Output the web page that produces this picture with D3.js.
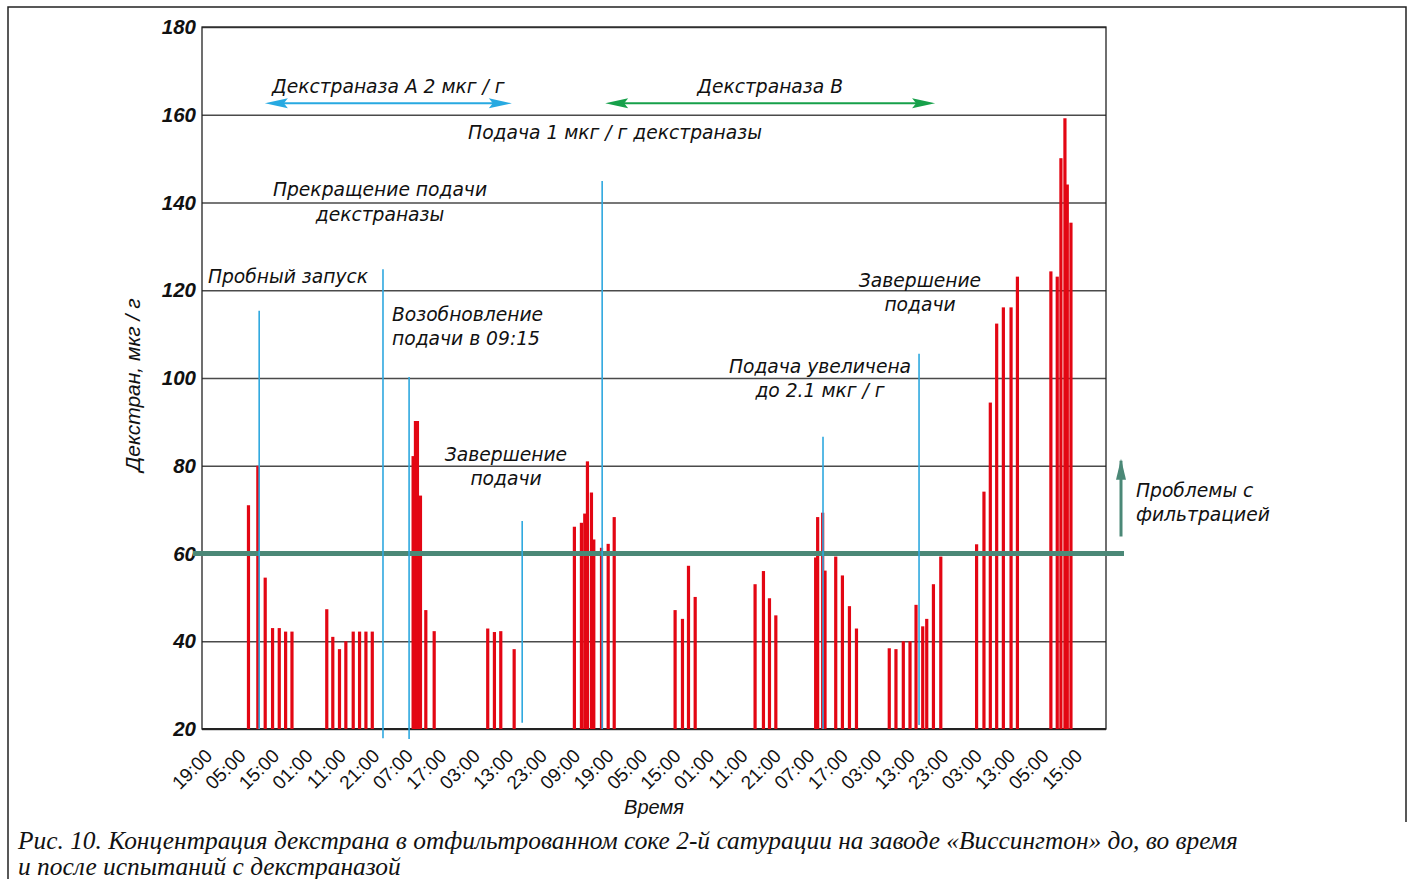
<!DOCTYPE html>
<html>
<head>
<meta charset="utf-8">
<script src="https://cdn.jsdelivr.net/npm/d3@7"></script>
<style>
  body { margin: 0; background: #fff; }
  text { font-family: "Liberation Sans", Arial, sans-serif; }
  .note { font-family: "DejaVu Sans", sans-serif; font-style: italic; font-size: 18.7px; fill: #111; }
  .caption { font-family: "Liberation Serif", "Times New Roman", serif; font-style: italic; font-size: 25.4px; fill: #111; }
</style>
</head>
<body>
<svg width="1413" height="879"></svg>
<script>
// time axis labels, one per tick interval
const timeLabels = ['19:00','05:00','15:00','01:00','11:00','21:00','07:00','17:00','03:00',
    '13:00','23:00','09:00','19:00','05:00','15:00','01:00','11:00','21:00','07:00','17:00',
    '03:00','13:00','23:00','03:00','13:00','05:00','15:00'];

// samples: position along time axis (in tick intervals) and dextran, мкг/г
const barSlot = [1.09, 1.37, 1.59, 1.81, 2.01, 2.20, 2.39,
    3.43, 3.61, 3.81, 4.00, 4.22, 4.41, 4.60, 4.79,
    6.01, 6.08, 6.14, 6.23, 6.39, 6.64,
    8.24, 8.44, 8.63, 9.03,
    10.83, 11.04, 11.14, 11.22, 11.34, 11.41, 11.64, 11.84, 12.02,
    13.84, 14.06, 14.24, 14.44,
    16.23, 16.48, 16.66, 16.85,
    18.04, 18.10, 18.25, 18.32, 18.64, 18.84, 19.05, 19.26,
    20.24, 20.44, 20.66, 20.86, 21.04, 21.24, 21.36, 21.56, 21.78,
    22.85, 23.07, 23.26, 23.45, 23.65, 23.88, 24.07,
    25.07, 25.26, 25.37, 25.49, 25.56, 25.67];
const dextran = [71, 80, 54.5, 43, 43, 42.2, 42.2,
    47.3, 41, 38.2, 40, 42.2, 42.2, 42.2, 42.2,
    82.2, 90.2, 90.2, 73.2, 47.1, 42.3,
    42.9, 42.1, 42.3, 38.2,
    66.1, 67, 69.1, 81, 73.9, 63.2, 61.3, 62.2, 68.3,
    47.1, 45.1, 57.2, 50.1,
    53, 56, 49.8, 45.9,
    59.1, 68.3, 69.3, 56.1, 59.3, 55, 48, 42.9,
    38.4, 38.2, 40, 40, 48.3, 43.4, 45.1, 53, 59.3,
    62.1, 74.1, 94.4, 112.4, 116.1, 116.1, 123.1,
    124.3, 123.1, 150.1, 159.2, 144.1, 135.4];

// event markers (blue lines)
const eventSlot = [1.41, 5.11, 5.89, 9.27, 11.66, 18.26, 21.13];
const eventTop = [115.3, 124.8, 100.2, 67.4, 144.9, 86.6, 105.5];
const eventBottom = [20, 17.9, 17.7, 21.4, 20, 20, 20.9];

// dextranase dosing periods
const periodNames = ['Декстраназа А 2 мкг / г', 'Декстраназа В'];
const periodStart = [1.58, 11.75];
const periodEnd = [8.96, 21.61];
const periodLevel = [162.6, 162.6];
const periodColors = ['#27a9e1', '#16a04a'];

const yTicks = [20, 40, 60, 80, 100, 120, 140, 160, 180];
const threshold = 60;

const svg = d3.select('svg');
const width = +svg.attr('width');
const height = +svg.attr('height');

const render = () => {
    const margin = { top: 27, right: 307, bottom: 150, left: 202 };
    const innerWidth = width - margin.left - margin.right;
    const innerHeight = height - margin.top - margin.bottom;

    // outer frame (open at bottom)
    svg.append('path')
        .attr('d', `M8,879 L8,7 L1406,7 L1406,822`)
        .attr('fill', 'none')
        .attr('stroke', '#222')
        .attr('stroke-width', 1.5);

    const g = svg.append('g')
        .attr('transform', `translate(${margin.left},${margin.top})`);

    const x = d3.scaleLinear()
        .domain([0, 26])
        .range([10, 880]);

    const y = d3.scaleLinear()
        .domain([20, 180])
        .range([innerHeight, 0]);

    //grid + y labels
    const yAxisG = g.append('g')
        .call(d3.axisLeft(y).tickValues(yTicks).tickSize(-innerWidth).tickPadding(6));
    yAxisG.select('.domain').remove();
    yAxisG.selectAll('line')
        .attr('stroke', '#4a4a4a')
        .attr('stroke-width', 1.3);
    yAxisG.selectAll('text')
        .attr('font-size', 20.5)
        .attr('font-style', 'italic')
        .attr('font-weight', 'bold')
        .attr('fill', '#111');

    //frame
    g.append('rect')
        .attr('width', innerWidth)
        .attr('height', innerHeight)
        .attr('fill', 'none')
        .attr('stroke', '#222')
        .attr('stroke-width', 1.3);
    g.append('line')
        .attr('x1', 0).attr('x2', innerWidth)
        .attr('y1', innerHeight).attr('y2', innerHeight)
        .attr('stroke', '#222')
        .attr('stroke-width', 2.2);

    //x labels
    const xAxisG = g.append('g')
        .attr('transform', `translate(0,${innerHeight})`)
        .call(d3.axisBottom(x).tickValues(d3.range(timeLabels.length))
            .tickFormat(i => timeLabels[i]).tickSize(0));
    xAxisG.select('.domain').remove();
    xAxisG.selectAll('text')
        .attr('x', 0).attr('y', 0).attr('dy', 0)
        .attr('text-anchor', 'end')
        .attr('font-size', 19)
        .attr('fill', '#111')
        .attr('transform', 'translate(1,28) rotate(-45)');

    //bars
    g.selectAll('.bar').data(barSlot).enter()
        .append('rect')
        .attr('class', 'bar')
        .attr('x', d => x(d) - 1.6)
        .attr('width', 3.2)
        .attr('y', (d, i) => y(dextran[i]))
        .attr('height', (d, i) => y(20) - y(dextran[i]))
        .attr('fill', '#e30613');

    //threshold
    const teal = '#4b8877';
    g.append('line')
        .attr('x1', -9).attr('x2', innerWidth + 18)
        .attr('y1', y(threshold)).attr('y2', y(threshold))
        .attr('stroke', teal)
        .attr('stroke-width', 5);
    const ax = innerWidth + 15;
    g.append('line')
        .attr('x1', ax).attr('x2', ax)
        .attr('y1', y(threshold) - 17).attr('y2', y(80) - 5)
        .attr('stroke', teal)
        .attr('stroke-width', 3);
    g.append('path')
        .attr('d', `M${ax - 5},${y(80) + 14} L${ax},${y(80) - 7} L${ax + 5},${y(80) + 14} Z`)
        .attr('fill', teal);

    //event lines
    g.selectAll('.event').data(eventSlot).enter()
        .append('line')
        .attr('class', 'event')
        .attr('x1', d => x(d)).attr('x2', d => x(d))
        .attr('y1', (d, i) => y(eventTop[i]))
        .attr('y2', (d, i) => y(eventBottom[i]))
        .attr('stroke', '#2ea8df')
        .attr('stroke-width', 1.6);

    //period arrows
    periodNames.forEach((name, i) => {
        const x1 = x(periodStart[i]), x2 = x(periodEnd[i]), yy = y(periodLevel[i]);
        const c = periodColors[i];
        g.append('line')
            .attr('x1', x1 + 10).attr('x2', x2 - 10)
            .attr('y1', yy).attr('y2', yy)
            .attr('stroke', c).attr('stroke-width', 2);
        g.append('path')
            .attr('d', `M${x1},${yy} L${x1 + 23},${yy - 5} L${x1 + 19},${yy} L${x1 + 23},${yy + 5} Z`)
            .attr('fill', c);
        g.append('path')
            .attr('d', `M${x2},${yy} L${x2 - 23},${yy - 5} L${x2 - 19},${yy} L${x2 - 23},${yy + 5} Z`)
            .attr('fill', c);
        g.append('text')
            .attr('class', 'note')
            .attr('x', (x1 + x2) / 2)
            .attr('y', yy - 10)
            .attr('text-anchor', 'middle')
            .text(name);
    });

    //notes (page coordinates)
    const notes = [
        ['Подача 1 мкг / г декстраназы', 615, 139, 'middle'],
        ['Прекращение подачи', 380, 196, 'middle'],
        ['декстраназы', 380, 221, 'middle'],
        ['Пробный запуск', 288, 283, 'middle'],
        ['Возобновление', 392, 321, 'start'],
        ['подачи в 09:15', 392, 345, 'start'],
        ['Завершение', 506, 461, 'middle'],
        ['подачи', 506, 485, 'middle'],
        ['Подача увеличена', 820, 373, 'middle'],
        ['до 2.1 мкг / г', 820, 397, 'middle'],
        ['Завершение', 920, 287, 'middle'],
        ['подачи', 920, 311, 'middle'],
        ['Проблемы с', 1136, 497, 'start'],
        ['фильтрацией', 1136, 521, 'start']
    ];
    svg.selectAll('.pnote').data(notes).enter()
        .append('text')
        .attr('class', 'note pnote')
        .attr('x', d => d[1])
        .attr('y', d => d[2])
        .attr('text-anchor', d => d[3])
        .text(d => d[0]);

    //axis titles
    svg.append('text')
        .attr('transform', 'translate(140,385) rotate(-90)')
        .attr('text-anchor', 'middle')
        .attr('font-size', 21)
        .attr('font-style', 'italic')
        .attr('fill', '#111')
        .text('Декстран, мкг / г');
    svg.append('text')
        .attr('x', 654).attr('y', 814)
        .attr('text-anchor', 'middle')
        .attr('font-size', 20)
        .attr('font-style', 'italic')
        .attr('fill', '#111')
        .text('Время');

    //caption
    const cap = svg.append('text')
        .attr('class', 'caption');
    cap.append('tspan').attr('x', 18).attr('y', 849)
        .text('Рис. 10. Концентрация декстрана в отфильтрованном соке 2-й сатурации на заводе «Виссингтон» до, во время');
    cap.append('tspan').attr('x', 18).attr('y', 875)
        .text('и после испытаний с декстраназой');
};

render();
</script>
</body>
</html>
